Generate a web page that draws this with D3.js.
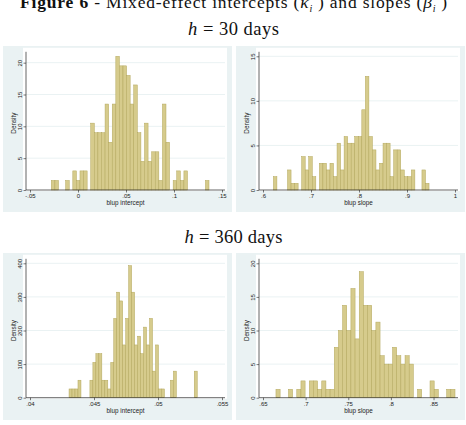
<!DOCTYPE html>
<html>
<head>
<meta charset="utf-8">
<script src="https://cdn.jsdelivr.net/npm/d3@7"></script>
<style>
  body { margin: 0; background: #fff; }
  svg { display: block; }
</style>
</head>
<body>
<div id="wrapper"></div>
<script>
// h = 30 days, intercepts (44 bins)
const h30InterceptStart = -0.0278;
const h30InterceptWidth = 0.003733;
const h30InterceptDensity = [1.5, 1.5, 0, 0, 1.5, 0, 3, 1.5, 3, 3,
  0, 10.5, 9, 9, 9, 13.5, 7.5, 13.5, 21, 19.5,
  19.5, 18, 13.5, 16.5, 9, 4.5, 10.5, 4.5, 6, 6,
  1.5, 13.5, 7.5, 0, 1.5, 3, 1.5, 3, 0, 0,
  0, 0, 0, 1.5];
const h30InterceptXTicks = [-0.05, 0, 0.05, 0.1, 0.15];
const h30InterceptXLabels = ["-.05", "0", ".05", ".1", ".15"];
const h30InterceptYTicks = [0, 5, 10, 15, 20];

// h = 30 days, slopes (44 bins)
const h30SlopeStart = 0.6216;
const h30SlopeWidth = 0.00737;
const h30SlopeDensity = [1.5, 0, 0, 0, 2.25, 0.75, 0.75, 0, 3.75, 2.25,
  3.75, 1.5, 0, 3, 3, 2.25, 3, 1.5, 5.25, 2.25,
  6, 5.25, 5.25, 6, 6, 9, 12.75, 6, 4.5, 2.25,
  3, 5.25, 5.25, 1.5, 4.5, 4.5, 2.25, 1.5, 1.5, 2.25,
  0, 0, 2.25, 0.75];
const h30SlopeXTicks = [0.6, 0.7, 0.8, 0.9, 1];
const h30SlopeXLabels = [".6", ".7", ".8", ".9", "1"];
const h30SlopeYTicks = [0, 5, 10, 15];

// h = 360 days, intercepts (43 bins)
const h360InterceptStart = 0.04305;
const h360InterceptWidth = 0.0002329;
const h360InterceptDensity = [26, 26, 26, 52, 0, 0, 0, 52, 105, 131,
  131, 52, 52, 26, 105, 236, 314, 288, 157, 236,
  393, 314, 157, 183, 131, 210, 157, 236, 79, 157,
  26, 26, 0, 0, 52, 79, 0, 0, 0, 0,
  0, 0, 79];
const h360InterceptXTicks = [0.04, 0.045, 0.05, 0.055];
const h360InterceptXLabels = [".04", ".045", ".05", ".055"];
const h360InterceptYTicks = [0, 100, 200, 300, 400];

// h = 360 days, slopes (43 bins)
const h360SlopeStart = 0.6652;
const h360SlopeWidth = 0.004883;
const h360SlopeDensity = [1.25, 0, 0, 1.25, 0, 1.25, 2.5, 0, 2.5, 2.5,
  1.25, 2.5, 1.25, 1.25, 7.5, 10, 13.75, 10, 16.25, 8.75,
  18.75, 13.75, 13.75, 10, 11.25, 6.25, 5, 5, 7.5, 6.25,
  5, 6.25, 5, 0, 1.25, 0, 0, 2.5, 1.25, 0,
  0, 1.25, 1.25];
const h360SlopeXTicks = [0.65, 0.7, 0.75, 0.8, 0.85];
const h360SlopeXLabels = [".65", ".7", ".75", ".8", ".85"];
const h360SlopeYTicks = [0, 5, 10, 15, 20];

const width = 466, height = 425;
const bgColor = "#eaf2f3";
const barFill = "#d6cb8c";
const barStroke = "#b3a75c";
const serif = "'Liberation Serif', 'DejaVu Serif', serif";
const sans = "'Liberation Sans', Arial, sans-serif";

// column / row geometry of the 2x2 grid
const cols = [
  { bgX: 3, bgW: 229, axisX: 26, right: 225, x0: 30, x1: 222 },
  { bgX: 236, bgW: 229, axisX: 259, right: 458, x0: 263, x1: 455 }
];
const rows = [
  { bgY: 46, bgH: 166, bottom: 190, top: 56.3 },
  { bgY: 253, bgH: 167, bottom: 397.7, top: 263.3 }
];

const panels = [
  { col: 0, row: 0, start: h30InterceptStart, w: h30InterceptWidth, density: h30InterceptDensity,
    xTicks: h30InterceptXTicks, xLabels: h30InterceptXLabels, yTicks: h30InterceptYTicks, xTitle: "blup intercept" },
  { col: 1, row: 0, start: h30SlopeStart, w: h30SlopeWidth, density: h30SlopeDensity,
    xTicks: h30SlopeXTicks, xLabels: h30SlopeXLabels, yTicks: h30SlopeYTicks, xTitle: "blup slope" },
  { col: 0, row: 1, start: h360InterceptStart, w: h360InterceptWidth, density: h360InterceptDensity,
    xTicks: h360InterceptXTicks, xLabels: h360InterceptXLabels, yTicks: h360InterceptYTicks, xTitle: "blup intercept" },
  { col: 1, row: 1, start: h360SlopeStart, w: h360SlopeWidth, density: h360SlopeDensity,
    xTicks: h360SlopeXTicks, xLabels: h360SlopeXLabels, yTicks: h360SlopeYTicks, xTitle: "blup slope" }
];

const svg = d3.select("#wrapper").append("svg")
  .attr("width", width)
  .attr("height", height)
  .style("background", "#fff");

// page title (its top is cut off in the source too)
const title = svg.append("text")
  .attr("x", 233.5)
  .attr("y", 8.3)
  .attr("text-anchor", "middle")
  .attr("font-family", serif)
  .attr("font-size", 17.5)
  .attr("textLength", 427)
  .attr("lengthAdjust", "spacing")
  .attr("fill", "#111");
title.append("tspan").attr("font-weight", "bold").text("Figure 6");
title.append("tspan").text(" - Mixed-effect intercepts (");
title.append("tspan").attr("font-style", "italic").text("κ");
title.append("tspan").attr("font-style", "italic").attr("font-size", 10).attr("dy", 4).text("i");
title.append("tspan").attr("font-size", 10).attr("dy", -10).attr("dx", -3).text("*");
title.append("tspan").attr("dy", 6).attr("dx", 2).text(") and slopes (");
title.append("tspan").attr("font-style", "italic").text("β");
title.append("tspan").attr("font-style", "italic").attr("font-size", 10).attr("dy", 4).text("i");
title.append("tspan").attr("font-size", 10).attr("dy", -10).attr("dx", -3).text("*");
title.append("tspan").attr("dy", 6).attr("dx", 2).text(")");

const subtitles = [{ y: 35, days: "30", len: 91 }, { y: 243.3, days: "360", len: 98 }];
subtitles.forEach(s => {
  const t = svg.append("text")
    .attr("x", 233.5)
    .attr("y", s.y)
    .attr("text-anchor", "middle")
    .attr("font-family", serif)
    .attr("font-size", 18.5)
    .attr("textLength", s.len)
    .attr("lengthAdjust", "spacing")
    .attr("fill", "#111")
    .attr("xml:space", "preserve");
  t.append("tspan").attr("font-style", "italic").text("h");
  t.append("tspan").text(" = " + s.days + " days");
});

panels.forEach(p => {
  const c = cols[p.col], r = rows[p.row];
  const end = p.start + p.w * p.density.length;
  const lo = Math.min(p.xTicks[0], p.start);
  const hi = Math.max(p.xTicks[p.xTicks.length - 1], end);
  const x = d3.scaleLinear().domain([lo, hi]).range([c.x0, c.x1]);
  const yMax = Math.max(p.yTicks[p.yTicks.length - 1], d3.max(p.density));
  const y = d3.scaleLinear().domain([0, yMax]).range([r.bottom, r.top]);

  const g = svg.append("g");

  // graph region + plot region
  g.append("rect")
    .attr("x", c.bgX).attr("y", r.bgY)
    .attr("width", c.bgW).attr("height", r.bgH)
    .attr("fill", bgColor);
  g.append("rect")
    .attr("x", c.axisX - 3).attr("y", r.top - 8.5)
    .attr("width", c.right - c.axisX + 5).attr("height", r.bottom - r.top + 9.5)
    .attr("fill", "#fff");

  // gridlines
  g.append("g")
    .selectAll("line")
    .data(p.yTicks.filter(t => t > 0))
    .join("line")
    .attr("x1", c.axisX).attr("x2", c.right)
    .attr("y1", d => y(d)).attr("y2", d => y(d))
    .attr("stroke", bgColor)
    .attr("stroke-width", 1);

  // bars
  const bins = p.density.map((d, i) => ({ x0: p.start + i * p.w, x1: p.start + (i + 1) * p.w, d }))
    .filter(b => b.d > 0);
  g.append("g")
    .selectAll("rect")
    .data(bins)
    .join("rect")
    .attr("x", b => x(b.x0))
    .attr("width", b => x(b.x1) - x(b.x0))
    .attr("y", b => y(b.d))
    .attr("height", b => y(0) - y(b.d))
    .attr("fill", barFill)
    .attr("stroke", barStroke)
    .attr("stroke-width", 0.5);

  // axes
  const xAxis = d3.axisBottom(x)
    .tickValues(p.xTicks)
    .tickFormat((d, i) => p.xLabels[i])
    .tickSize(2.5)
    .tickPadding(1.5);
  const xg = g.append("g")
    .attr("transform", `translate(0,${r.bottom})`)
    .call(xAxis);
  xg.select(".domain").remove();
  xg.append("line")
    .attr("x1", c.axisX).attr("x2", c.right)
    .attr("stroke", "#222").attr("stroke-width", 0.7);

  const yAxis = d3.axisLeft(y)
    .tickValues(p.yTicks)
    .tickFormat(d3.format("d"))
    .tickSize(2.5)
    .tickPadding(1.5);
  const yg = g.append("g")
    .attr("transform", `translate(${c.axisX},0)`)
    .call(yAxis);
  yg.select(".domain").remove();
  yg.append("line")
    .attr("y1", r.bottom).attr("y2", r.top - 4.5)
    .attr("stroke", "#222").attr("stroke-width", 0.7);
  yg.selectAll(".tick text")
    .attr("x", null).attr("dy", null)
    .attr("text-anchor", "middle")
    .attr("transform", "translate(-4,0) rotate(-90)");

  [xg, yg].forEach(a => {
    a.selectAll(".tick line").attr("stroke", "#222").attr("stroke-width", 0.6);
    a.selectAll(".tick text")
      .attr("font-family", sans)
      .attr("font-size", 6)
      .attr("fill", "#222");
  });

  // axis titles
  g.append("text")
    .attr("x", (c.axisX + c.right) / 2)
    .attr("y", r.bottom + 15)
    .attr("text-anchor", "middle")
    .attr("font-family", sans)
    .attr("font-size", 6.3)
    .attr("fill", "#222")
    .text(p.xTitle);
  g.append("text")
    .attr("transform", `translate(${c.axisX - 10.5},${(r.bottom + r.top) / 2}) rotate(-90)`)
    .attr("text-anchor", "middle")
    .attr("font-family", sans)
    .attr("font-size", 6.3)
    .attr("fill", "#222")
    .text("Density");
});
</script>
</body>
</html>
